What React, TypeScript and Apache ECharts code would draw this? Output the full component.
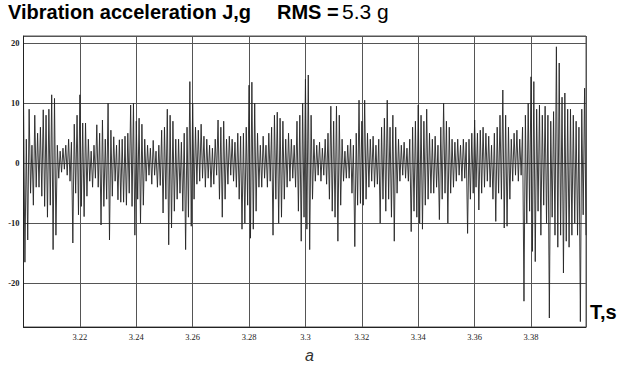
import React, { useEffect, useRef } from 'react';
import * as echarts from 'echarts';

// sampling of the recorded signal
const T_START = 3.2;
const T_STEP = 0.0005;
const T_END = 3.3995;

// vibration acceleration, g (one value per sample)
const signal: number[] = [
  11, -16.5, 4, -12.8, 9, -5, 3, -7, 8, -4,
  5, -4, 6, -5.5, 8.9, -7.2, 8, -9, 9, -7,
  11.4, -14.4, 10.8, -12, 3, -2.5, 2, -1.5, 2.5, -1,
  3, -2, 4, -3, 3.5, -13.3, 6.5, -5, 8, -8.6,
  11.4, -7.2, 6.7, -8.9, 6.7, -5.5, 4, -3, 2, -4,
  3, -2.5, 6.4, -4, 5, -10.3, 7.2, -7.2, 4, -6,
  10, -12.8, 5.5, -5.5, 4.4, -3, 3, -6.1, 3.9, -6.5,
  4, -6.5, 4.5, -7, 5, -5, 9.7, -7.2, 10, -12,
  7, -6, 7.5, -10, 6.5, -7, 4, -3, 3, -2,
  2.5, -3.5, 3.8, -2, 2, -4, 3, -3.7, 5.5, -8.3,
  6, -6, 9, -13.6, 8, -10.8, 7, -8, 4, -6,
  4, -5, 3.5, -8, 5, -14.4, 6, -9, 13.6, -10.5,
  10, -6, 6, -3.5, 5.5, -3, 6.5, -2.5, 4.5, -4,
  4, -2.5, 3, -4, 2.5, -3.5, 4, -2, 7.2, -6,
  6, -9, 7, -6, 4, -3.5, 4.5, -2, 4, -3,
  3.5, -4, 5, -6, 4.5, -11, 5, -10, 6, -7,
  13, -12.5, 13.5, -11, 10, -8, 5, -4, 3, -4,
  4.5, -2.5, 3, -4, 5, -3, 6, -12, 8, -6,
  8.5, -10, 7.5, -9, 7, -6, 4, -4, 5, -3,
  4, -2.5, 3, -4, 7, -8, 8, -13, 10, -9,
  14, -11, 14.7, -14.4, 8, -6, 4, -3, 3, -2,
  3.5, -3, 2.5, -2, 4, -3.5, 5, -6, 9.5, -8,
  7, -9, 9.5, -13, 8, -7, 4, -3, 2, -2.5,
  3, -2.5, 4, -5, 3, -13.9, 5, -7, 10.5, -6.7,
  7, -7, 10.5, -6, 5, -4, 4, -3, 4.5, -4,
  3, -3.5, 4, -10, 6, -6, 7.5, -8, 10.5, -6,
  6, -9, 8, -13, 6, -5, 4, -3, 3, -2,
  3.5, -2.5, 2.5, -3, 4, -11.4, 6, -8, 7, -9,
  9.7, -10, 8, -11, 7, -7, 9, -6, 5, -5,
  4, -5, 4.5, -4, 3, -9.4, 6, -6, 10, -5,
  7, -10, 6, -5, 4, -4, 3.5, -3, 4, -2,
  3, -3, 4, -2.5, 3.5, -11.7, 4, -6, 5, -5,
  7.2, -4, 5, -7.8, 5.5, -5, 6, -4, 5, -3,
  4.5, -4, 3, -6, 5, -9.7, 6, -5, 8, -6,
  12.2, -10.8, 8, -10.5, 6, -6, 4, -3, 5, -2,
  5.5, -3, 4, -2, 6, -23, 8, -10, 10, -8,
  14.4, -14.7, 13.6, -16.4, 9, -8, 9.7, -12, 8, -7,
  9.5, -10, 8, -25.8, 7, -9, 8.6, -12, 19.4, -14,
  16.7, -12, 11, -18.3, 11.7, -13, 9, -14, 9, -12,
  8, -10, 7, -12, 6, -26.4, 9, -8.6, 12.5, -12,
];

// axis tick values
const yTicks = [-20, -10, 0, 10, 20];
const Y_MIN = -27.3;
const Y_MAX = 21.2;

export default function App() {
  const ref = useRef<HTMLDivElement>(null);

  useEffect(() => {
    document.body.style.margin = '0';
    if (!ref.current) return;
    const chart = echarts.init(ref.current, null, { renderer: 'svg' });
    const data = signal.map((v, i) => [T_START + i * T_STEP, v]);

    chart.setOption({
      animation: false,
      backgroundColor: '#ffffff',
      grid: {
        left: 23.5,
        right: 36,
        top: 36,
        bottom: 38,
        show: true,
        borderColor: '#555',
        borderWidth: 1,
        backgroundColor: 'transparent',
      },
      xAxis: {
        type: 'value',
        min: T_START,
        max: T_END,
        interval: 0.02,
        axisLine: { show: true, onZero: false, lineStyle: { color: '#222', width: 1 } },
        axisTick: { show: false },
        splitLine: { show: true, lineStyle: { color: '#555', width: 1 } },
        axisLabel: {
          showMinLabel: false,
          showMaxLabel: false,
          margin: 5,
          fontFamily: 'Liberation Serif',
          fontSize: 8.5,
          color: '#222',
        },
      },
      yAxis: {
        type: 'value',
        min: Y_MIN,
        max: Y_MAX,
        splitNumber: 5,
        axisLine: { show: true, lineStyle: { color: '#222', width: 1 } },
        axisTick: { show: false },
        splitLine: { show: true, lineStyle: { color: '#555', width: 1 } },
        axisLabel: {
          showMinLabel: false,
          showMaxLabel: false,
          margin: 4,
          fontFamily: 'Liberation Serif',
          fontSize: 8.5,
          fontWeight: 'bold',
          color: '#222',
          formatter: (v: number) => (yTicks.some((t) => Math.abs(t - v) < 1e-6) ? String(v) : ''),
        },
      },
      series: [
        {
          type: 'line',
          data,
          showSymbol: false,
          symbol: 'none',
          lineStyle: { color: '#262626', width: 0.9 },
          clip: true,
        },
      ],
      graphic: [
        {
          type: 'text',
          left: 8,
          top: 2,
          style: {
            text: 'Vibration acceleration J,g',
            font: 'bold 20px "Liberation Sans", Arial, sans-serif',
            fill: '#000',
          },
        },
        {
          type: 'text',
          left: 277,
          top: 2,
          style: {
            text: 'RMS =',
            font: 'bold 20px "Liberation Sans", Arial, sans-serif',
            fill: '#000',
          },
        },
        {
          type: 'text',
          left: 342,
          top: 1,
          style: {
            text: '5.3 g',
            font: '21px "Liberation Sans", Arial, sans-serif',
            fill: '#000',
          },
        },
        {
          type: 'text',
          left: 590,
          top: 302,
          style: {
            text: 'T,s',
            font: 'bold 20px "Liberation Sans", Arial, sans-serif',
            fill: '#000',
          },
        },
        {
          type: 'text',
          left: 305,
          top: 347,
          style: {
            text: 'a',
            font: 'italic 16px "Liberation Sans", Arial, sans-serif',
            fill: '#333',
          },
        },
      ],
    });

    return () => {
      chart.dispose();
    };
  }, []);

  return <div ref={ref} style={{ width: 622, height: 365 }} />;
}
